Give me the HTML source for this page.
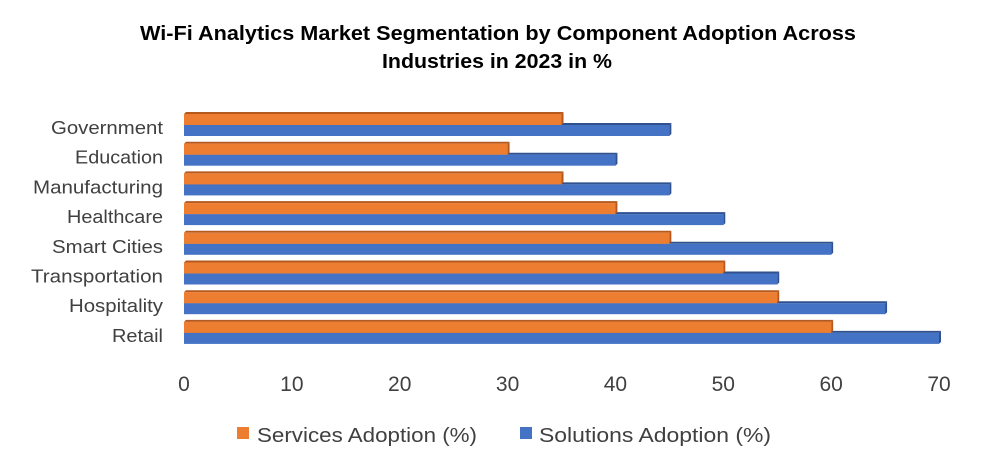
<!DOCTYPE html>
<html><head><meta charset="utf-8"><style>
body{margin:0;background:#fff;font-family:"Liberation Sans",sans-serif;}
#c{width:998px;height:468px;position:relative;overflow:hidden}
</style></head><body>
<div id="c">
<svg id="s" width="998" height="468">
<text x="498" y="40" text-anchor="middle" font-size="20" font-weight="bold" fill="#000" textLength="716" lengthAdjust="spacingAndGlyphs">Wi-Fi Analytics Market Segmentation by Component Adoption Across</text>
<text x="497" y="68" text-anchor="middle" font-size="20" font-weight="bold" fill="#000" textLength="230" lengthAdjust="spacingAndGlyphs">Industries in 2023 in %</text>
<g id="bars"></g>
<rect x="237" y="427" width="12" height="12" fill="#ED7D31"/>
<text x="257" y="442" font-size="20" fill="#404040" textLength="220" lengthAdjust="spacingAndGlyphs">Services Adoption (%)</text>
<rect x="520" y="427" width="12" height="12" fill="#4472C4"/>
<text x="539" y="442" font-size="20" fill="#404040" textLength="232" lengthAdjust="spacingAndGlyphs">Solutions Adoption (%)</text>
</svg></div>
<script>
const categories=["Government","Education","Manufacturing","Healthcare","Smart Cities","Transportation","Hospitality","Retail"];
const services=[35,30,35,40,45,50,55,60];
const solutions=[45,40,45,50,60,55,65,70];
const ticks=[0,10,20,30,40,50,60,70];
const labelWidths=[112,88,130,96,111,132,94,51];
const NS="http://www.w3.org/2000/svg";
const g=document.getElementById('bars');
const X0=184,X1=939,MAX=70;
const x=v=>X0+(X1-X0)*v/MAX;
const rowY=i=>112+i*29.7;
function mk(t,a){const e=document.createElementNS(NS,t);for(const k in a)e.setAttribute(k,a[k]);g.appendChild(e);return e;}
function bar(v,y,face,dark,name){
  const w=x(v)-X0;
  const top=mk('polygon',{points:`${X0+2},${y} ${X0+w+2},${y} ${X0+w},${y+2} ${X0},${y+2}`,fill:dark});
  
  
  const r=mk('rect',{x:X0,y:y+2,width:w,height:11,fill:face});
  
  
  const side=mk('polygon',{points:`${X0+w},${y+2} ${X0+w+2},${y} ${X0+w+2},${y+11} ${X0+w},${y+13}`,fill:dark});
  
  
}
categories.forEach((c,i)=>{
  const y=rowY(i);
  bar(solutions[i],y+11,'#4472C4','#2F528F','bar-solutions-'+i);
  bar(services[i],y,'#ED7D31','#B5591F','bar-services-'+i);
  const t=mk('text',{x:163,y:y+22,'text-anchor':'end','font-size':18,fill:'#404040',textLength:labelWidths[i],lengthAdjust:'spacingAndGlyphs'});
  t.textContent=c;
  
  
});
ticks.forEach(v=>{
  const t=mk('text',{x:x(v),y:391,'text-anchor':'middle','font-size':21,fill:'#404040'});
  t.textContent=v;
  
  
});
</script>
</body></html>
